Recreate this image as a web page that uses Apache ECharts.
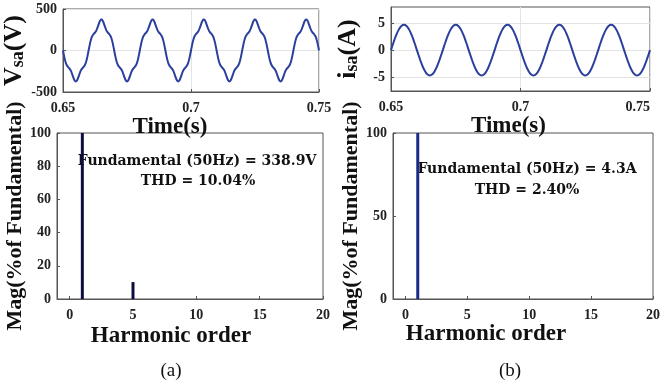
<!DOCTYPE html>
<html>
<head>
<meta charset="utf-8">
<script src="https://cdn.jsdelivr.net/npm/echarts@6/dist/echarts.min.js"></script>
<style>
    html, body {margin: 0; padding: 0; background: #fff;}
    #chart_main {width: 663px; height: 388px;}
</style>
</head>
<body>
<div id="chart_main"></div>
<script>
// source voltage, 0.65 s .. 0.75 s, one sample every 0.5 ms
var v_t0 = 0.65, v_dt = 0.0005;
var v_sa = [
    0, -77, -139, -178, -199, -216, -240, -278, -322, -359, -373, -359, -322, -278, -240, -216, -199, -178, -139, -77,
    0, 77, 139, 178, 199, 216, 240, 278, 322, 359, 373, 359, 322, 278, 240, 216, 199, 178, 139, 77,
    0, -77, -139, -178, -199, -216, -240, -278, -322, -359, -373, -359, -322, -278, -240, -216, -199, -178, -139, -77,
    0, 77, 139, 178, 199, 216, 240, 278, 322, 359, 373, 359, 322, 278, 240, 216, 199, 178, 139, 77,
    0, -77, -139, -178, -199, -216, -240, -278, -322, -359, -373, -359, -322, -278, -240, -216, -199, -178, -139, -77,
    0, 77, 139, 178, 199, 216, 240, 278, 322, 359, 373, 359, 322, 278, 240, 216, 199, 178, 139, 77,
    0, -77, -139, -178, -199, -216, -240, -278, -322, -359, -373, -359, -322, -278, -240, -216, -199, -178, -139, -77,
    0, 77, 139, 178, 199, 216, 240, 278, 322, 359, 373, 359, 322, 278, 240, 216, 199, 178, 139, 77,
    0, -77, -139, -178, -199, -216, -240, -278, -322, -359, -373, -359, -322, -278, -240, -216, -199, -178, -139, -77,
    0, 77, 139, 178, 199, 216, 240, 278, 322, 359, 373, 359, 322, 278, 240, 216, 199, 178, 139, 77,
    0
];

// source current, one sample every 1 ms
var i_t0 = 0.65, i_dt = 0.001;
var i_sa = [
    0, 1.45, 2.76, 3.80, 4.47, 4.70, 4.47, 3.80, 2.76, 1.45, 0, -1.45, -2.76, -3.80, -4.47, -4.70, -4.47, -3.80, -2.76, -1.45,
    0, 1.45, 2.76, 3.80, 4.47, 4.70, 4.47, 3.80, 2.76, 1.45, 0, -1.45, -2.76, -3.80, -4.47, -4.70, -4.47, -3.80, -2.76, -1.45,
    0, 1.45, 2.76, 3.80, 4.47, 4.70, 4.47, 3.80, 2.76, 1.45, 0, -1.45, -2.76, -3.80, -4.47, -4.70, -4.47, -3.80, -2.76, -1.45,
    0, 1.45, 2.76, 3.80, 4.47, 4.70, 4.47, 3.80, 2.76, 1.45, 0, -1.45, -2.76, -3.80, -4.47, -4.70, -4.47, -3.80, -2.76, -1.45,
    0, 1.45, 2.76, 3.80, 4.47, 4.70, 4.47, 3.80, 2.76, 1.45, 0, -1.45, -2.76, -3.80, -4.47, -4.70, -4.47, -3.80, -2.76, -1.45,
    0
];

// harmonic spectra (% of fundamental)
var harm_order = [0, 1, 2, 3, 4, 5, 6, 7, 8, 9, 10, 11, 12, 13, 14, 15, 16, 17, 18, 19, 20];
var harm_v = [0, 100, 0, 0, 0, 10.2, 0, 0, 0, 0, 0, 0, 0, 0, 0, 0, 0, 0, 0, 0, 0];
var harm_i = [0, 100, 0, 0, 0, 0, 0, 0, 0, 0, 0, 0, 0, 0, 0, 0, 0, 0, 0, 0, 0];

var time_ticks = [0.65, 0.7, 0.75];
var harm_ticks = [0, 5, 10, 15, 20];
var v_ticks = [-500, 0, 500];
var i_ticks = [-5, 0, 5];

var text_v = ['Fundamental (50Hz) = 338.9V', 'THD = 10.04%'];
var text_i = ['Fundamental (50Hz) = 4.3A', 'THD = 2.40%'];

function pairs(t0, dt, vals) {
    var out = [];
    for (var k = 0; k < vals.length; k = k + 1) {
        out.push([+(t0 + k * dt).toFixed(5), vals[k]]);
    }
    return out;
}
function zip(xs, ys) {
    var out = [];
    for (var k = 0; k < xs.length; k = k + 1) {
        out.push([xs[k], ys[k]]);
    }
    return out;
}

var serif = 'Liberation Serif';
var frame = '#555';
var gridLine = {show: true, lineStyle: {color: '#e3e3e3', width: 1}};
var tickLbl = {fontFamily: serif, fontWeight: 'bold', fontSize: 14, color: '#222'};

function xAxisCfg(idx, min, max, ticks, name, gap, shift, split, alignMax) {
    return {
        type: 'value', gridIndex: idx, min: min, max: max,
        axisLine: {show: true, onZero: false, lineStyle: {color: frame}},
        axisTick: {inside: true, length: 3, customValues: ticks, lineStyle: {color: frame}},
        axisLabel: Object.assign({customValues: ticks, margin: 9, alignMaxLabel: alignMax || null,
            formatter: function (v) { return String(v); }}, tickLbl),
        splitLine: split ? gridLine : {show: false},
        name: name, nameLocation: 'middle', nameGap: gap,
        nameTextStyle: {fontFamily: serif, fontWeight: 'bold', fontSize: 23, color: '#111',
            padding: [0, shift, 0, 0]}
    };
}
function yAxisCfg(idx, min, max, ticks, name, gap, split, rich) {
    var o = {
        type: 'value', gridIndex: idx, min: min, max: max,
        axisLine: {show: true, onZero: false, lineStyle: {color: frame}},
        axisTick: {inside: true, length: 3, customValues: ticks, lineStyle: {color: frame}},
        axisLabel: Object.assign({customValues: ticks, margin: 6}, tickLbl),
        splitLine: split ? gridLine : {show: false},
        name: name, nameLocation: 'middle', nameGap: gap,
        nameTextStyle: {fontFamily: serif, fontWeight: 'bold', fontSize: 22, color: '#111'}
    };
    if (rich) {
        o.nameTextStyle.rich = rich;
    }
    return o;
}

var subRich = {
    b: {fontFamily: serif, fontWeight: 'bold', fontSize: 26, color: '#111'},
    s: {fontFamily: serif, fontWeight: 'bold', fontSize: 18, color: '#111', verticalAlign: 'bottom', padding: [8, 0, 0, 0]}
};

function noteText(x, y, str) {
    return {
        type: 'text', x: x, y: y, silent: true,
        style: {text: str, fontFamily: 'DejaVu Serif', fontWeight: 'bold', fontSize: 14,
            fill: '#111', align: 'center', verticalAlign: 'middle'}
    };
}

var chart_main = echarts.init(document.getElementById('chart_main'));
chart_main.setOption(option = {
    backgroundColor: '#fff',
    animation: false,
    grid: [
        {left: 63, top: 9, width: 256, height: 83, show: true, borderColor: frame, borderWidth: 1},
        {left: 391, top: 7, width: 259, height: 84, show: true, borderColor: frame, borderWidth: 1},
        {left: 57, top: 133, width: 266, height: 166, show: true, borderColor: frame, borderWidth: 1},
        {left: 393, top: 133, width: 260, height: 166, show: true, borderColor: frame, borderWidth: 1}
    ],
    xAxis: [
        xAxisCfg(0, 0.65, 0.75, time_ticks, 'Time(s)', 14, 42, true),
        xAxisCfg(1, 0.65, 0.75, time_ticks, 'Time(s)', 18, 24, true, 'right'),
        xAxisCfg(2, -1, 20, harm_ticks, 'Harmonic order', 26, 38, false),
        xAxisCfg(3, -1, 20, harm_ticks, 'Harmonic order', 24, 74, false)
    ],
    yAxis: [
        yAxisCfg(0, -500, 500, v_ticks, '{b|V}{s|sa}{b|(V)}', 33, true, subRich),
        yAxisCfg(1, -7.6, 8, i_ticks, '{b|i}{s|sa}{b|(A)}', 30, true, subRich),
        yAxisCfg(2, 0, 100, [0, 20, 40, 60, 80, 100], 'Mag(%of Fundamental)', 30, false),
        yAxisCfg(3, 0, 100, [0, 50, 100], 'Mag(%of Fundamental)', 31, false)
    ],
    series: [
        {
            name: 'Vsa', type: 'line', xAxisIndex: 0, yAxisIndex: 0,
            data: pairs(v_t0, v_dt, v_sa), smooth: true, showSymbol: false,
            lineStyle: {color: '#2b3f9c', width: 2}
        },
        {
            name: 'isa', type: 'line', xAxisIndex: 1, yAxisIndex: 1,
            data: pairs(i_t0, i_dt, i_sa), smooth: true, showSymbol: false,
            lineStyle: {color: '#2b3f9c', width: 2}
        },
        {
            name: 'harm_v', type: 'bar', xAxisIndex: 2, yAxisIndex: 2,
            data: zip(harm_order, harm_v), barWidth: 3,
            itemStyle: {color: '#0d0d40'}
        },
        {
            name: 'harm_i', type: 'bar', xAxisIndex: 3, yAxisIndex: 3,
            data: zip(harm_order, harm_i), barWidth: 3,
            itemStyle: {color: '#1b2a88'}
        }
    ],
    graphic: [
        noteText(197, 161, text_v[0]),
        noteText(198, 181, text_v[1]),
        noteText(527, 169, text_i[0]),
        noteText(527, 190, text_i[1]),
        {type: 'text', x: 171, y: 371, silent: true,
            style: {text: '(a)', fontFamily: serif, fontSize: 19, fill: '#111', align: 'center', verticalAlign: 'middle'}},
        {type: 'text', x: 510, y: 371, silent: true,
            style: {text: '(b)', fontFamily: serif, fontSize: 19, fill: '#111', align: 'center', verticalAlign: 'middle'}}
    ]
});
</script>
</body>
</html>
